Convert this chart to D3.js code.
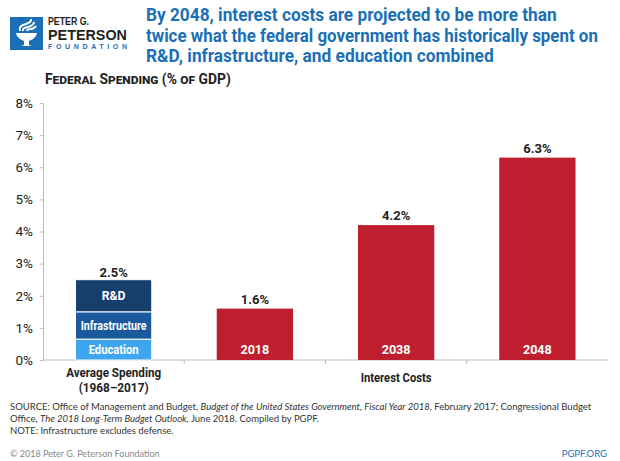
<!DOCTYPE html>
<html><head><meta charset="utf-8">
<script src="https://cdn.jsdelivr.net/npm/d3@7"></script>
<style>
body{margin:0;background:#fff;}
svg{display:block;}
</style></head>
<body>
<svg id="c" width="620" height="461"></svg>
<script>
// ---- data ----
const bandKeys = ["avg", "2018", "2038", "2048"];
const avgLabelLines = ["Average Spending", "(1968\u20132017)"];
const stackKeys = ["Education", "Infrastructure", "R&D"];
const stackValues = [0.65, 0.85, 1.0];
const avgTotalLabel = "2.5%";
const interestYears = ["2018", "2038", "2048"];
const interestValues = [1.6, 4.2, 6.3];
const interestLabel = "Interest Costs";
const yTickValues = [0, 1, 2, 3, 4, 5, 6, 7, 8];
const titleLines = [
  "By 2048, interest costs are projected to be more than",
  "twice what the federal government has historically spent on",
  "R&D, infrastructure, and education combined"
];
const footLines = [
  [["SOURCE: Office of Management and Budget, ", false], ["Budget of the United States Government, Fiscal Year 2018,", true], [" February 2017; Congressional Budget", false]],
  [["Office, ", false], ["The 2018 Long-Term Budget Outlook,", true], [" June 2018. Compiled by PGPF.", false]],
  [["NOTE: Infrastructure excludes defense.", false]]
];

const svg = d3.select("#c");
const RED = "#be1e2d";
const stackColors = ["#3ea6ee", "#1a5a9c", "#163f6e"];
const BLUE = "#1b6fb6";
const BOLD = "Roboto, 'Liberation Sans', Arial, sans-serif";
const LOGO = "'Liberation Sans', Arial, sans-serif";
const FOOT = "Lato, 'Open Sans', sans-serif";

// Place a bold label at (px,py) and squeeze it horizontally to the width it has
// in the reference (mimics a condensed face) using a transform.
function label(parent, txt, px, py, w, opts) {
  const t = parent.append("text").attr("x", 0).attr("y", 0)
    .attr("font-family", opts.family || BOLD).attr("font-weight", opts.weight || 700)
    .attr("font-size", opts.size).attr("fill", opts.fill)
    .attr("text-anchor", opts.anchor || "start").text(txt);
  if (opts.style) Object.entries(opts.style).forEach(([k, v]) => t.style(k, v));
  const n = t.node().getComputedTextLength();
  const s = n > w ? w / n : 1;
  t.attr("transform", `translate(${px},${py}) scale(${s},1)`);
  return t;
}

// ---- scales ----
const x = d3.scaleBand().domain(bandKeys).range([43, 608]).paddingInner(0.46).paddingOuter(0.23);
const y = d3.scaleLinear().domain([0, 8]).range([360, 103]);

// ---- logo ----
const logo = svg.append("g");
logo.append("rect").attr("x", 10).attr("y", 17).attr("width", 33).attr("height", 33).attr("fill", BLUE);
logo.append("path").attr("fill", "#fff")
  .attr("d", "M16,33 L37,33 L36,36 Q33,40 29,41 L29,45 L32,46 L21,46 L24,45 L24,41 Q20,40 17,36 Z");
logo.append("path").attr("fill", "none").attr("stroke", "#fff").attr("stroke-width", 2)
  .attr("d", "M20,31 Q18,26 26,24 Q32,22 31,19 M23,31 Q22,28 28,27 Q34,25 34,22 M27,31 Q27,29 31,29 Q35,28 36,26");
label(logo, "PETER G.", 48, 24.5, 41, { family: LOGO, size: 10.5, fill: "#231f20" });
label(logo, "PETERSON", 48, 40, 79, { family: LOGO, size: 15, fill: "#231f20" });
logo.append("text").attr("x", 48).attr("y", 48.5).attr("font-family", LOGO).attr("font-weight", 700)
  .attr("font-size", 7).attr("fill", BLUE).attr("textLength", 79).attr("lengthAdjust", "spacing").text("FOUNDATION");

// ---- title ----
const titleW = [411, 452, 348];
titleLines.forEach((t, i) => {
  label(svg, t, 146, 21 + i * 20.7, titleW[i], { size: 18.5, fill: BLUE });
});

// ---- y-axis label ----
label(svg, "Federal Spending (% of GDP)", 45, 84, 186, { size: 14, fill: "#222", style: { "font-variant": "small-caps" } });

// ---- axes ----
const yAxis = svg.append("g").attr("transform", "translate(43,0)")
  .call(d3.axisLeft(y).tickValues(yTickValues).tickFormat(d => d + "%").tickSize(3).tickPadding(7));
yAxis.select(".domain").attr("stroke", "#bbb");
yAxis.selectAll(".tick line").attr("stroke", "#bbb");
yAxis.selectAll(".tick text").attr("font-family", "Roboto, Arial, sans-serif").attr("font-size", 13.5).attr("fill", "#222");

const xb = svg.append("g");
xb.append("line").attr("x1", 43).attr("x2", 608).attr("y1", y(0)).attr("y2", y(0)).attr("stroke", "#bbb");
bandKeys.slice(1).forEach(k => {
  const bx = x(k) - x.step() * x.paddingInner() / 2;
  xb.append("line").attr("x1", bx).attr("x2", bx).attr("y1", y(0)).attr("y2", y(0) + 4).attr("stroke", "#bbb");
});

// ---- stacked average bar ----
let acc = 0;
const stacks = stackValues.map((v, i) => { const s = { key: stackKeys[i], y0: acc, y1: acc + v, c: stackColors[i] }; acc += v; return s; });
const stackLabelW = [50, 66, 24];
const sg = svg.append("g");
sg.selectAll("rect").data(stacks).join("rect")
  .attr("x", x("avg")).attr("width", x.bandwidth())
  .attr("y", d => y(d.y1)).attr("height", d => y(d.y0) - y(d.y1))
  .attr("fill", d => d.c).attr("stroke", "#fff").attr("stroke-width", 1);
const cx0 = x("avg") + x.bandwidth() / 2;
stacks.forEach((d, i) => {
  label(sg, d.key, cx0, (y(d.y0) + y(d.y1)) / 2 + 4.5, stackLabelW[i], { size: 12.5, fill: "#fff", anchor: "middle" });
});
label(svg, avgTotalLabel, cx0, y(acc) - 3, 29, { size: 13, fill: "#222", anchor: "middle" });

// ---- interest bars ----
const ig = svg.append("g");
const idata = interestYears.map((k, i) => ({ k, v: interestValues[i] }));
ig.selectAll("rect").data(idata).join("rect")
  .attr("x", d => x(d.k)).attr("width", x.bandwidth())
  .attr("y", d => y(d.v)).attr("height", d => y(0) - y(d.v)).attr("fill", RED);
idata.forEach(d => {
  const cx = x(d.k) + x.bandwidth() / 2;
  label(ig, d.k, cx, y(0) - 6, 29, { size: 13, fill: "#fff", anchor: "middle" });
  label(ig, d.v.toFixed(1) + "%", cx, y(d.v) - 5, 29, { size: 13, fill: "#222", anchor: "middle" });
});

// ---- category labels ----
const avgLabelW = [95, 70];
avgLabelLines.forEach((t, i) => {
  label(svg, t, cx0, 377 + i * 15, avgLabelW[i], { size: 13, fill: "#222", anchor: "middle" });
});
label(svg, interestLabel, x("2038") + x.bandwidth() / 2, 382, 71, { size: 13, fill: "#222", anchor: "middle" });

// ---- footer ----
footLines.forEach((parts, i) => {
  const t = svg.append("text").attr("x", 10).attr("y", 410 + i * 12).attr("font-family", FOOT)
    .attr("font-size", 9.5).attr("fill", "#333");
  parts.forEach(([s, it]) => t.append("tspan").attr("font-style", it ? "italic" : "normal").text(s));
});
svg.append("text").attr("x", 10).attr("y", 457).attr("font-family", FOOT)
  .attr("font-size", 9).attr("fill", "#888").text("\u00a9 2018 Peter G. Peterson Foundation");
svg.append("text").attr("x", 607).attr("y", 457).attr("text-anchor", "end").attr("font-family", FOOT)
  .attr("font-size", 9.5).attr("fill", BLUE).text("PGPF.ORG");
</script>
</body></html>
